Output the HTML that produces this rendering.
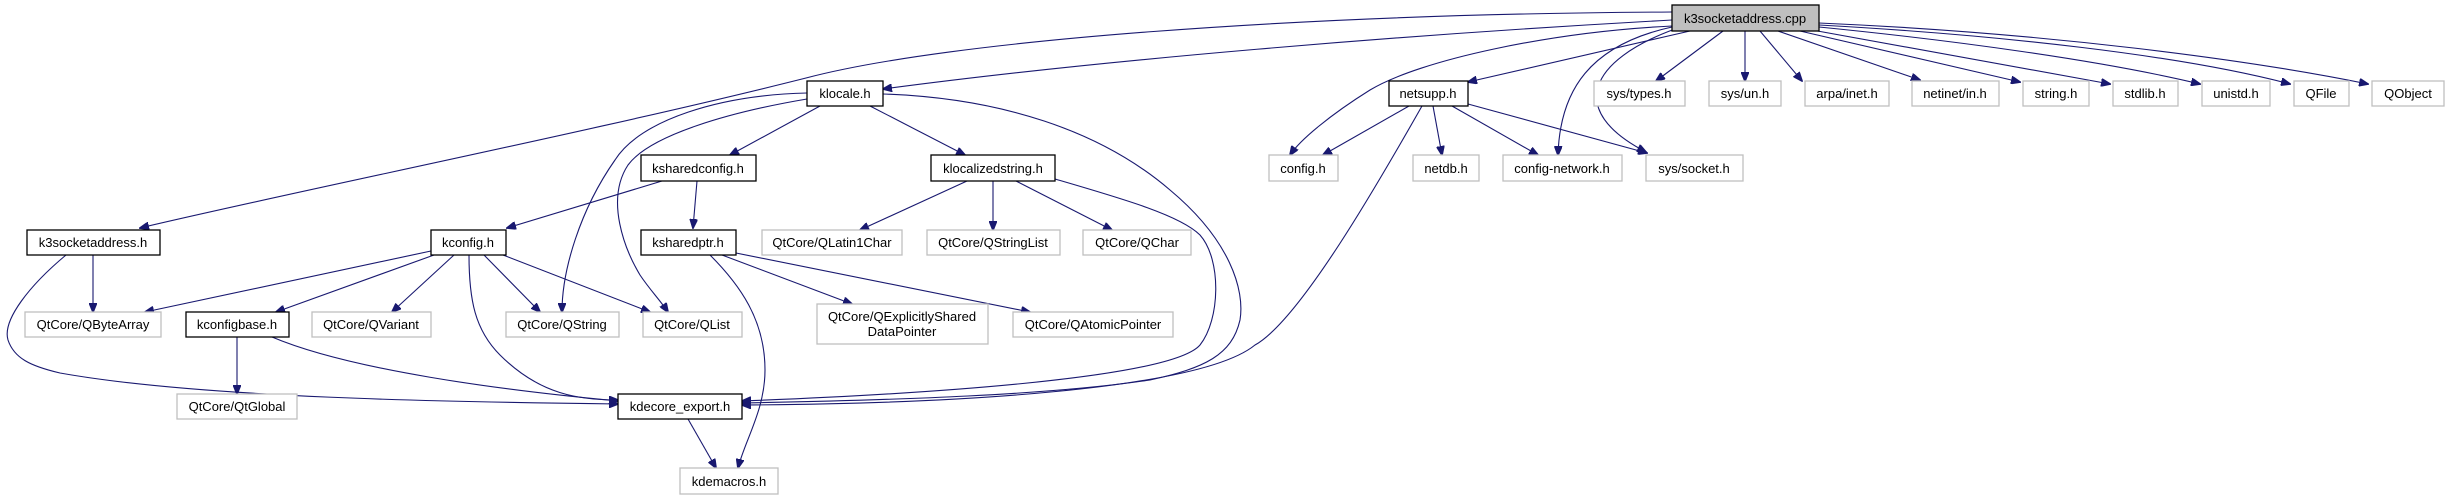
<!DOCTYPE html>
<html><head><meta charset="utf-8"><style>
html,body{margin:0;padding:0;background:#fff;}
svg{display:block;}
text{font-family:"Liberation Sans",Helvetica,Arial,sans-serif;font-size:13px;fill:#000;text-anchor:middle;}
.d{fill:#fff;stroke:#000;stroke-width:1.3;}
.g{fill:#fff;stroke:#bfbfbf;stroke-width:1.3;}
.e{fill:none;stroke:#191970;stroke-width:1.1;marker-end:url(#a);}
</style></head><body>
<svg width="2449" height="500" viewBox="0 0 2449 500" xmlns="http://www.w3.org/2000/svg">
<defs><marker id="a" markerWidth="10" markerHeight="8" refX="9" refY="4" orient="auto" markerUnits="userSpaceOnUse"><path d="M0,0 L10,4 L0,8 Z" fill="#191970" stroke="#191970"/></marker></defs>
<!-- edges -->
<path class="e" d="M1672,12 C1300,14 950,40 806,78 C600,130 300,190 140,228"/>
<path class="e" d="M1672,20 C1400,35 1100,60 883,89"/>
<path class="e" d="M1672,26 C1550,32 1420,60 1370,90 C1330,115 1300,140 1290,155"/>
<path class="e" d="M1690,31 L1468,82"/>
<path class="e" d="M1672,27 C1590,45 1560,90 1558,155"/>
<path class="e" d="M1675,29 C1590,60 1565,110 1646,152"/>
<path class="e" d="M1723,31 L1656,81"/>
<path class="e" d="M1745,31 L1745,81"/>
<path class="e" d="M1760,31 L1802,81"/>
<path class="e" d="M1778,31 L1920,80"/>
<path class="e" d="M1800,31 L2020,82"/>
<path class="e" d="M1812,30 L2110,84"/>
<path class="e" d="M1819,27 C1950,40 2100,60 2200,84"/>
<path class="e" d="M1819,25 C2000,35 2180,55 2290,84"/>
<path class="e" d="M1819,23 C2050,33 2250,60 2368,84"/>
<!-- klocale -->
<path class="e" d="M820,106 L730,155"/>
<path class="e" d="M870,106 L965,155"/>
<path class="e" d="M807,93 C720,95 640,120 615,160 C580,210 562,270 562,312"/>
<path class="e" d="M807,99 C730,112 650,135 628,165 C605,200 625,250 640,275 C650,290 660,300 668,312"/>
<path class="e" d="M883,94 C1000,98 1100,130 1170,190 C1230,240 1245,290 1240,320 C1232,355 1205,368 1150,380 C1050,395 900,400 742,403"/>
<!-- klocalizedstring -->
<path class="e" d="M967,181 L860,230"/>
<path class="e" d="M993,181 L993,230"/>
<path class="e" d="M1016,181 L1112,230"/>
<path class="e" d="M1055,179 C1120,198 1180,215 1200,235 C1222,260 1220,320 1200,345 C1170,380 900,395 742,401"/>
<!-- netsupp -->
<path class="e" d="M1409,106 L1323,155"/>
<path class="e" d="M1433,106 L1442,155"/>
<path class="e" d="M1452,106 L1538,155"/>
<path class="e" d="M1468,104 L1647,153"/>
<path class="e" d="M1422,106 C1380,180 1300,320 1255,345 C1200,390 950,404 742,405"/>
<!-- ksharedconfig -->
<path class="e" d="M662,181 L507,228"/>
<path class="e" d="M697,181 L693,228"/>
<!-- ksharedptr -->
<path class="e" d="M710,255 C740,285 765,320 765,370 C765,410 745,440 738,468"/>
<path class="e" d="M722,255 L852,304"/>
<path class="e" d="M736,253 L1030,312"/>
<!-- kconfig -->
<path class="e" d="M431,251 L145,312"/>
<path class="e" d="M434,255 L276,312"/>
<path class="e" d="M454,255 L392,312"/>
<path class="e" d="M484,255 L540,312"/>
<path class="e" d="M503,255 L650,312"/>
<path class="e" d="M469,255 C469,300 475,330 500,355 C540,395 580,400 618,400"/>
<!-- k3socketaddress.h -->
<path class="e" d="M93,255 L93,312"/>
<path class="e" d="M66,255 C30,285 2,320 8,340 C14,358 30,366 60,373 C200,398 450,402 618,404"/>
<!-- kconfigbase -->
<path class="e" d="M237,337 L237,394"/>
<path class="e" d="M272,337 C350,370 500,390 618,401"/>
<!-- kdecore_export -->
<path class="e" d="M688,419 L716,468"/>
<!-- nodes -->
<rect x="1672" y="5" width="147" height="26" fill="#bfbfbf" stroke="#000" stroke-width="1.3"/><text x="1745" y="23">k3socketaddress.cpp</text>
<rect class="d" x="807" y="81" width="76" height="25"/><text x="845" y="98">klocale.h</text>
<rect class="d" x="1389" y="81" width="79" height="25"/><text x="1428" y="98">netsupp.h</text>
<rect class="g" x="1594" y="81" width="91" height="25"/><text x="1639" y="98">sys/types.h</text>
<rect class="g" x="1709" y="81" width="72" height="25"/><text x="1745" y="98">sys/un.h</text>
<rect class="g" x="1805" y="81" width="84" height="25"/><text x="1847" y="98">arpa/inet.h</text>
<rect class="g" x="1912" y="81" width="87" height="25"/><text x="1955" y="98">netinet/in.h</text>
<rect class="g" x="2023" y="81" width="66" height="25"/><text x="2056" y="98">string.h</text>
<rect class="g" x="2113" y="81" width="65" height="25"/><text x="2145" y="98">stdlib.h</text>
<rect class="g" x="2202" y="81" width="68" height="25"/><text x="2236" y="98">unistd.h</text>
<rect class="g" x="2294" y="81" width="55" height="25"/><text x="2321" y="98">QFile</text>
<rect class="g" x="2372" y="81" width="72" height="25"/><text x="2408" y="98">QObject</text>
<rect class="d" x="641" y="155" width="115" height="26"/><text x="698" y="173">ksharedconfig.h</text>
<rect class="d" x="931" y="155" width="124" height="26"/><text x="993" y="173">klocalizedstring.h</text>
<rect class="g" x="1269" y="155" width="69" height="26"/><text x="1303" y="173">config.h</text>
<rect class="g" x="1413" y="155" width="66" height="26"/><text x="1446" y="173">netdb.h</text>
<rect class="g" x="1503" y="155" width="119" height="26"/><text x="1562" y="173">config-network.h</text>
<rect class="g" x="1646" y="155" width="97" height="26"/><text x="1694" y="173">sys/socket.h</text>
<rect class="d" x="27" y="230" width="133" height="25"/><text x="93" y="247">k3socketaddress.h</text>
<rect class="d" x="431" y="230" width="75" height="25"/><text x="468" y="247">kconfig.h</text>
<rect class="d" x="641" y="230" width="95" height="25"/><text x="688" y="247">ksharedptr.h</text>
<rect class="g" x="762" y="230" width="140" height="25"/><text x="832" y="247">QtCore/QLatin1Char</text>
<rect class="g" x="927" y="230" width="133" height="25"/><text x="993" y="247">QtCore/QStringList</text>
<rect class="g" x="1083" y="230" width="108" height="25"/><text x="1137" y="247">QtCore/QChar</text>
<rect class="g" x="25" y="312" width="136" height="25"/><text x="93" y="329">QtCore/QByteArray</text>
<rect class="d" x="186" y="312" width="103" height="25"/><text x="237" y="329">kconfigbase.h</text>
<rect class="g" x="312" y="312" width="119" height="25"/><text x="371" y="329">QtCore/QVariant</text>
<rect class="g" x="506" y="312" width="113" height="25"/><text x="562" y="329">QtCore/QString</text>
<rect class="g" x="643" y="312" width="99" height="25"/><text x="692" y="329">QtCore/QList</text>
<rect class="g" x="817" y="304" width="171" height="40"/><text x="902" y="321">QtCore/QExplicitlyShared</text><text x="902" y="336">DataPointer</text>
<rect class="g" x="1013" y="312" width="160" height="25"/><text x="1093" y="329">QtCore/QAtomicPointer</text>
<rect class="g" x="177" y="394" width="120" height="25"/><text x="237" y="411">QtCore/QtGlobal</text>
<rect class="d" x="618" y="394" width="124" height="25"/><text x="680" y="411">kdecore_export.h</text>
<rect class="g" x="680" y="468" width="98" height="26"/><text x="729" y="486">kdemacros.h</text>
</svg>
</body></html>
